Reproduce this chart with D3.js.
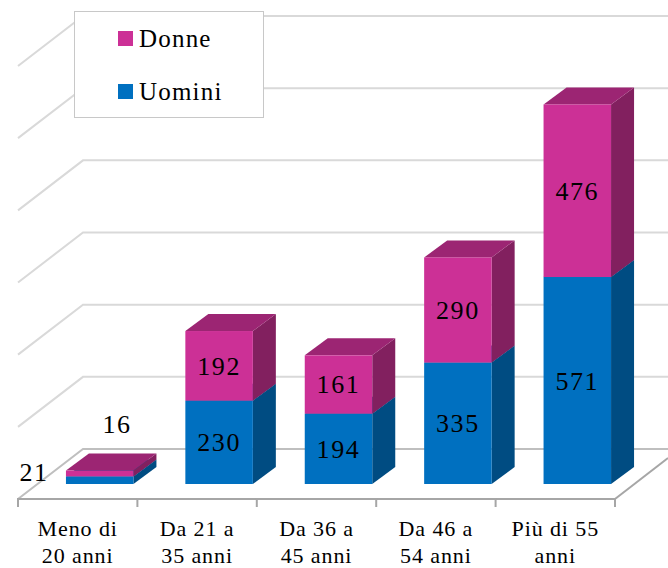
<!DOCTYPE html>
<html><head><meta charset="utf-8">
<script src="https://cdn.jsdelivr.net/npm/d3@7"></script>
<style>html,body{margin:0;padding:0;background:#fff;overflow:hidden}svg{display:block}text{font-family:"Liberation Serif",serif;fill:#000}</style>
</head><body><svg id="c" width="668" height="568"></svg>
<script>
const categories = ["Meno di 20 anni","Da 21 a 35 anni","Da 36 a 45 anni","Da 46 a 54 anni","Più di 55 anni"];
const categoryLines = [["Meno di","20 anni"],["Da 21 a","35 anni"],["Da 36 a","45 anni"],["Da 46 a","54 anni"],["Più di 55","anni"]];
const uomini = [21,230,194,335,571];
const donne = [16,192,161,290,476];
const axisTicks = [0,200,400,600,800,1000,1200];
const seriesNames = ["Donne","Uomini"];

const svg = d3.select("#c");
const x = d3.scaleBand().domain(categories).range([18,615]);
const yWall = d3.scaleLinear().domain([0,1200]).range([449,16]);
const h = d3.scaleLinear().domain([0,1200]).range([0,435]);
const barBase = 484, barW = 67.5, barShift = 22, dX = 23, dY = 17;
const wallDY = 50;
const C = {Uomini:{front:"#0070C0",side:"#004C82",top:"#00538F"},Donne:{front:"#CC3096",side:"#82205F",top:"#9C2573"}};

// walls
const g = svg.append("g");
axisTicks.forEach(t=>{
  const y = yWall(t);
  const col = t===0 ? "#bfbfbf" : "#d9d9d9";
  g.append("path").attr("d",`M18,${y+wallDY}L83,${y}L668,${y}`).attr("fill","none").attr("stroke",col).attr("stroke-width",2);
});
// floor and axis
g.append("path").attr("d",`M615,${yWall(0)+wallDY}L668,${yWall(0)+wallDY-41}`).attr("fill","none").attr("stroke","#a6a6a6").attr("stroke-width",2);
g.append("path").attr("d",`M18,${yWall(0)+wallDY}L615,${yWall(0)+wallDY}`).attr("fill","none").attr("stroke","#a6a6a6").attr("stroke-width",2);
d3.range(categories.length+1).forEach(i=>{
  const tx = 18 + i*x.step();
  g.append("line").attr("x1",tx).attr("x2",tx).attr("y1",498).attr("y2",507).attr("stroke","#a6a6a6").attr("stroke-width",2);
});

// bars
function box(parent,x0,y0,y1,c){
  parent.append("path").attr("fill",c.side).attr("d",`M${x0+barW},${y1}L${x0+barW+dX},${y1-dY}L${x0+barW+dX},${y0-dY}L${x0+barW},${y0}Z`);
  parent.append("path").attr("fill",c.top).attr("d",`M${x0},${y0}L${x0+dX},${y0-dY}L${x0+barW+dX},${y0-dY}L${x0+barW},${y0}Z`);
  parent.append("rect").attr("fill",c.front).attr("x",x0).attr("y",y0).attr("width",barW).attr("height",y1-y0);
}
function label(px,py,v){
  svg.append("text").attr("x",px).attr("y",py).attr("text-anchor","middle").attr("font-size",26).attr("letter-spacing",1.6).text(v);
}
const bars = svg.append("g");
categories.forEach((cat,i)=>{
  const x0 = x(cat)+x.bandwidth()/2+barShift-barW/2;
  const yU = barBase-h(uomini[i]), yD = yU-h(donne[i]);
  box(bars,x0,yU,barBase,C.Uomini);
  box(bars,x0,yD,yU,C.Donne);
  const cx = x0+barW/2;
  if(i===0){
    label(34,481,uomini[i]);
    label(117,433,donne[i]);
  } else {
    label(cx,(yU+barBase)/2+9,uomini[i]);
    label(cx,(yD+yU)/2+9,donne[i]);
  }
  categoryLines[i].forEach((ln,k)=>{
    svg.append("text").attr("x",x(cat)+x.bandwidth()/2).attr("y",536+k*27).attr("text-anchor","middle").attr("font-size",22).attr("letter-spacing",0.9).text(ln);
  });
});

// legend
const lg = svg.append("g");
lg.append("rect").attr("x",74.5).attr("y",11.5).attr("width",189).attr("height",106).attr("fill","#fff").attr("stroke","#c8c8c8").attr("stroke-width",1);
seriesNames.forEach((n,i)=>{
  const yy = 31+i*53;
  lg.append("rect").attr("x",118).attr("y",yy).attr("width",15).attr("height",15).attr("fill",C[n].front);
  lg.append("text").attr("x",139).attr("y",yy+16).attr("font-size",25).attr("letter-spacing",1.2).text(n);
});
</script></body></html>
